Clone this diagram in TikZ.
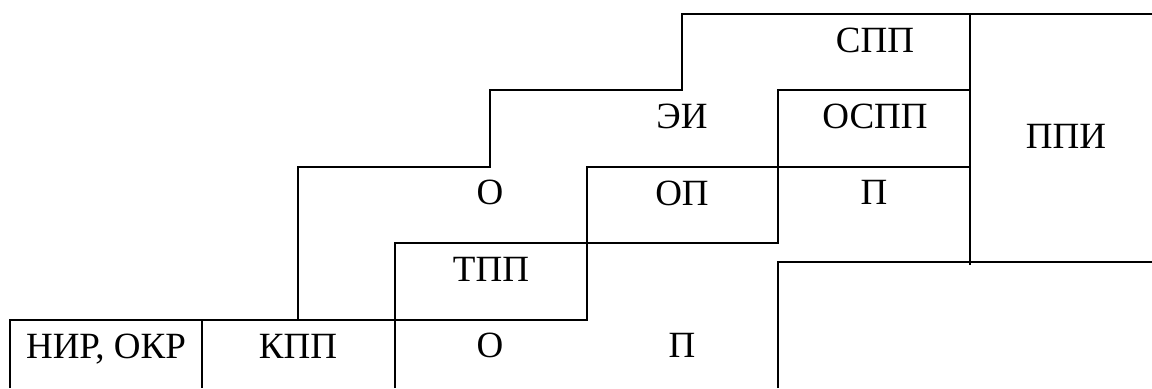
\documentclass[tikz,border=0pt]{standalone}
\usepackage{fontspec}
\setmainfont{Liberation Serif}
\usetikzlibrary{positioning}

\begin{document}
\begin{tikzpicture}[x=0.5pt,y=-0.5pt,
       black, line width=1.1pt, line join=miter,
       every node/.style={font=\fontsize{18.5}{22}\selectfont},
       stage/.style={anchor=base, inner sep=0pt}]

	\useasboundingbox (0,0) rectangle (1152,388);

	%% Outer staircase from KPP up to the top right
	\draw (298,320) -- (298,167) -- (490,167) -- (490,90)
	      -- (682,90) -- (682,14) -- (1152,14);

	%% Bottom row: NIR box and the long line to TPP
	\draw (10,388) -- (10,320) -- (587,320) -- (587,167) -- (970,167);
	\draw (202,320) -- (202,388);
	\draw (395,388) -- (395,243) -- (778,243) -- (778,90) -- (970,90);
	\draw (970,14) -- (970,265);

	%% Lower right box
	\draw (778,388) -- (778,262) -- (1152,262);

	%% Stage labels
	\node[stage] (nir)  at (106,358) {НИР, ОКР};
	\node[stage] (kpp)  at (298,358) {КПП};
	\node[stage] (o1)   at (490,357) {О};
	\node[stage] (p1)   at (682,357) {П};
	\node[stage] (tpp)  at (491,281) {ТПП};
	\node[stage] (o2)   at (490,204) {О};
	\node[stage] (op)   at (682,205) {ОП};
	\node[stage] (p2)   at (874,204) {П};
	\node[stage] (ei)   at (682,128) {ЭИ};
	\node[stage] (ospp) at (875,128) {ОСПП};
	\node[stage] (spp)  at (875,52)  {СПП};
	\node[stage] (ppi)  at (1066,148) {ППИ};
\end{tikzpicture}
\end{document}
